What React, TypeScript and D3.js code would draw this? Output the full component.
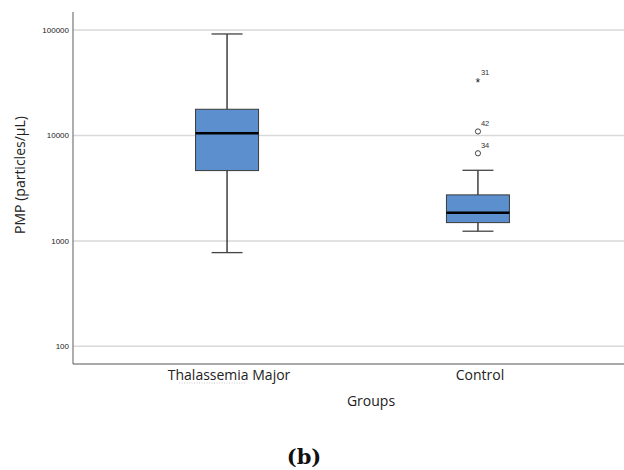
import React from 'react';
import * as d3 from 'd3';

// group summaries (particles/µL)
const groups = ['Thalassemia Major', 'Control'];
const whiskerLow = [774, 1235];
const q1 = [4640, 1490];
const median = [10500, 1850];
const q3 = [17700, 2730];
const whiskerHigh = [91600, 4670];

// outliers: group index, value, case label, kind
const outlierGroup = [1, 1, 1];
const outlierValue = [33600, 10900, 6770];
const outlierLabel = ['31', '42', '34'];
const outlierKind = ['extreme', 'outlier', 'outlier'];

const yTicks = [100, 1000, 10000, 100000];

const App = () => {
  const width = 624;
  const height = 470;
  const margin = { top: 12, right: 0, bottom: 106, left: 73 };
  const innerWidth = width - margin.left - margin.right;
  const innerHeight = height - margin.top - margin.bottom;

  const y = d3.scaleLog().domain([68, 148000]).range([innerHeight, 0]);
  const x = d3.scalePoint().domain(groups).range([0, 559]).padding(0.614);

  const boxW = 63;
  const capW = 31;
  const font = "'Open Sans', 'Noto Sans', sans-serif";

  return (
    <svg width={width} height={height} style={{ position: 'absolute', left: 0, top: 0, background: '#fff' }}>
      <g transform={`translate(${margin.left},${margin.top})`}>
        {/* gridlines */}
        {yTicks.map(t => (
          <line key={t} x1={0} x2={innerWidth} y1={y(t)} y2={y(t)} stroke="#d9d9d9" strokeWidth={1.5} />
        ))}
        {/* axes */}
        <line x1={0} x2={0} y1={0} y2={innerHeight} stroke="#777" strokeWidth={1.2} />
        <line x1={0} x2={innerWidth} y1={innerHeight} y2={innerHeight} stroke="#555" strokeWidth={1.2} />
        {yTicks.map(t => (
          <text key={t} x={-4} y={y(t)} dy="0.35em" textAnchor="end" fontSize={8} fill="#222" fontFamily="'Liberation Sans', Arial, sans-serif">
            {t}
          </text>
        ))}
        {/* boxes */}
        {groups.map((g, i) => {
          const cx = x(g) as number;
          return (
            <g key={g}>
              <line x1={cx} x2={cx} y1={y(whiskerHigh[i])} y2={y(q3[i])} stroke="#222" strokeWidth={1.3} />
              <line x1={cx} x2={cx} y1={y(q1[i])} y2={y(whiskerLow[i])} stroke="#222" strokeWidth={1.3} />
              <line x1={cx - capW / 2} x2={cx + capW / 2} y1={y(whiskerHigh[i])} y2={y(whiskerHigh[i])} stroke="#444" strokeWidth={1.3} />
              <line x1={cx - capW / 2} x2={cx + capW / 2} y1={y(whiskerLow[i])} y2={y(whiskerLow[i])} stroke="#444" strokeWidth={1.3} />
              <rect x={cx - boxW / 2} y={y(q3[i])} width={boxW} height={y(q1[i]) - y(q3[i])} fill="#5b8fcd" stroke="#3a3a3a" strokeWidth={1} />
              <line x1={cx - boxW / 2} x2={cx + boxW / 2} y1={y(median[i])} y2={y(median[i])} stroke="#000" strokeWidth={2.5} />
            </g>
          );
        })}
        {/* outliers */}
        {outlierValue.map((v, i) => {
          const cx = x(groups[outlierGroup[i]]) as number;
          const cy = y(v);
          return (
            <g key={i}>
              {outlierKind[i] === 'extreme' ? (
                <text x={cx} y={cy} dy="0.55em" textAnchor="middle" fontSize={12} fill="#222" fontFamily="'Liberation Sans', Arial, sans-serif">*</text>
              ) : (
                <circle cx={cx} cy={cy} r={2.6} fill="none" stroke="#444" strokeWidth={1} />
              )}
              <text x={cx + 3} y={cy - 5} fontSize={7.5} fill="#333" fontFamily="'Liberation Sans', Arial, sans-serif">
                {outlierLabel[i]}
              </text>
            </g>
          );
        })}
        {/* category labels */}
        {groups.map(g => (
          <text key={g} x={(x(g) as number) + 2} y={innerHeight + 16} textAnchor="middle" fontSize={14} fill="#222" fontFamily={font}>
            {g}
          </text>
        ))}
        <line x1={(x(groups[0]) as number) - 48} x2={(x(groups[0]) as number) + 18} y1={innerHeight + 19} y2={innerHeight + 19} stroke="#bbb" strokeWidth={0.8} strokeDasharray="1,1.5" />
      </g>
      <text x={371} y={406} textAnchor="middle" fontSize={14} fill="#222" fontFamily={font}>Groups</text>
      <text transform="translate(25,175) rotate(-90)" textAnchor="middle" fontSize={14} fill="#222" fontFamily={font}>
        PMP (particles/µL)
      </text>
      <text x={304} y={464} textAnchor="middle" fontSize={21} fontWeight="bold" fill="#111" fontFamily="'DejaVu Serif', 'Liberation Serif', serif">(b)</text>
    </svg>
  );
};

export default App;
